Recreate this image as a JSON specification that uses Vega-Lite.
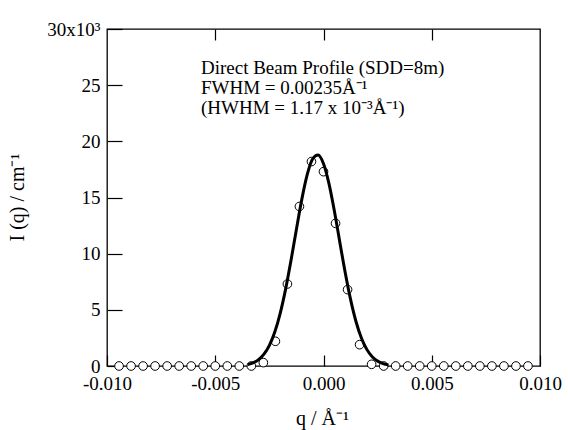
{
  "$schema": "https://vega.github.io/schema/vega-lite/v6.json",
  "width": 433,
  "height": 337,
  "autosize": {"type": "none"},
  "padding": {"left": 107, "top": 29, "right": 28, "bottom": 64},
  "background": "white",
  "config": {
    "view": {"stroke": "black", "strokeWidth": 1.3},
    "font": "Liberation Serif",
    "axis": {
      "domain": false,
      "grid": false,
      "tickColor": "black",
      "tickWidth": 1.2,
      "labelColor": "black",
      "titleColor": "black",
      "labelFont": "Liberation Serif",
      "titleFont": "Liberation Serif",
      "labelFontSize": 19,
      "titleFontSize": 20,
      "titleFontWeight": "normal"
    }
  },
  "datasets": {
    "pts": [
      {"q": -0.009444, "I": 0}, {"q": -0.008889, "I": 0}, {"q": -0.008333, "I": 0},
      {"q": -0.007778, "I": 0}, {"q": -0.007222, "I": 0}, {"q": -0.006667, "I": 0},
      {"q": -0.006111, "I": 0}, {"q": -0.005556, "I": 0}, {"q": -0.005, "I": 0},
      {"q": -0.004444, "I": 0}, {"q": -0.003889, "I": 0}, {"q": -0.003333, "I": 0},
      {"q": -0.002778, "I": 300}, {"q": -0.002222, "I": 2200}, {"q": -0.001667, "I": 7300},
      {"q": -0.001111, "I": 14200}, {"q": -0.000556, "I": 18200}, {"q": 0, "I": 17300},
      {"q": 0.000556, "I": 12700}, {"q": 0.001111, "I": 6800}, {"q": 0.001667, "I": 1900},
      {"q": 0.002222, "I": 150}, {"q": 0.002778, "I": 0}, {"q": 0.003333, "I": 0},
      {"q": 0.003889, "I": 0}, {"q": 0.004444, "I": 0}, {"q": 0.005, "I": 0},
      {"q": 0.005556, "I": 0}, {"q": 0.006111, "I": 0}, {"q": 0.006667, "I": 0},
      {"q": 0.007222, "I": 0}, {"q": 0.007778, "I": 0}, {"q": 0.008333, "I": 0},
      {"q": 0.008889, "I": 0}, {"q": 0.009444, "I": 0}
    ],
    "fit": [
      {"q": -0.0035, "I": 137}, {"q": -0.00325, "I": 287}, {"q": -0.003, "I": 566},
      {"q": -0.00275, "I": 1050}, {"q": -0.0025, "I": 1837}, {"q": -0.00225, "I": 3025},
      {"q": -0.002, "I": 4689}, {"q": -0.00175, "I": 6843}, {"q": -0.0015, "I": 9410},
      {"q": -0.00125, "I": 12184}, {"q": -0.001, "I": 14856}, {"q": -0.00075, "I": 17057},
      {"q": -0.0005, "I": 18443}, {"q": -0.00025, "I": 18777}, {"q": 0, "I": 18005},
      {"q": 0.00025, "I": 16256}, {"q": 0.0005, "I": 13822}, {"q": 0.00075, "I": 11068},
      {"q": 0.001, "I": 8345}, {"q": 0.00125, "I": 5926}, {"q": 0.0015, "I": 3961},
      {"q": 0.00175, "I": 2495}, {"q": 0.002, "I": 1480}, {"q": 0.00225, "I": 826},
      {"q": 0.0025, "I": 434}, {"q": 0.00275, "I": 215}, {"q": 0.003, "I": 100}
    ],
    "notes": [
      {"q": -0.00566, "I": 26500, "label": "Direct Beam Profile (SDD=8m)"},
      {"q": -0.00566, "I": 24750, "label": "FWHM = 0.00235Å⁻¹"},
      {"q": -0.00566, "I": 23000, "label": "(HWHM = 1.17 x 10⁻³Å⁻¹)"}
    ]
  },
  "resolve": {"axis": {"x": "independent"}},
  "layer": [
    {
      "data": {"name": "pts"},
      "mark": {"type": "point", "shape": "circle", "fill": "white", "stroke": "black", "strokeWidth": 1, "size": 75, "opacity": 1},
      "encoding": {
        "x": {
          "field": "q", "type": "quantitative",
          "scale": {"domain": [-0.01, 0.01], "nice": false, "zero": false},
          "axis": {
            "orient": "bottom",
            "values": [-0.01, -0.005, 0, 0.005, 0.01],
            "format": ".3f",
            "labelExpr": "replace(datum.label, '−', '-')",
            "tickSize": -11,
            "labelPadding": 19,
            "labelFlush": false,
            "title": "q / Å⁻¹",
            "titleX": 215,
            "titleY": 58,
            "titleBaseline": "alphabetic"
          }
        },
        "y": {
          "field": "I", "type": "quantitative",
          "scale": {"domain": [0, 30000], "nice": false},
          "axis": {
            "values": [0, 5000, 10000, 15000, 20000, 25000, 30000],
            "labelExpr": "datum.value == 30000 ? '30x10³' : format(datum.value / 1000, 'd')",
            "tickSize": -15,
            "labelPadding": 22,
            "labelFlush": false,
            "title": "I (q) / cm⁻¹",
            "titleX": -90,
            "titleY": 168,
            "titleAngle": -90,
            "titleAlign": "center",
            "titleBaseline": "middle"
          }
        }
      }
    },
    {
      "data": {"name": "fit"},
      "mark": {"type": "line", "color": "black", "strokeWidth": 3, "interpolate": "monotone"},
      "encoding": {
        "x": {
          "field": "q", "type": "quantitative",
          "scale": {"domain": [-0.01, 0.01], "nice": false, "zero": false},
          "axis": {
            "orient": "top",
            "values": [-0.005, 0, 0.005],
            "labels": false,
            "tickSize": -11,
            "title": null
          }
        },
        "y": {"field": "I", "type": "quantitative"}
      }
    },
    {
      "data": {"name": "notes"},
      "mark": {"type": "text", "align": "left", "baseline": "middle", "font": "Liberation Serif", "fontSize": 19, "color": "black"},
      "encoding": {
        "x": {"field": "q", "type": "quantitative", "axis": null},
        "y": {"field": "I", "type": "quantitative"},
        "text": {"field": "label"}
      }
    }
  ]
}
